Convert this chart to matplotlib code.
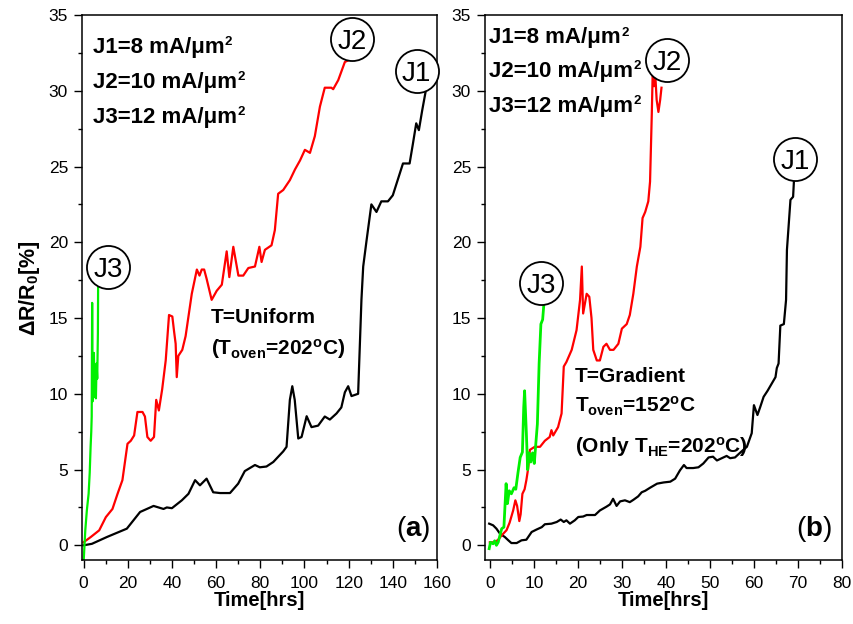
import matplotlib
matplotlib.use("Agg")
import matplotlib.pyplot as plt
from matplotlib.ticker import MultipleLocator

plt.rcParams['font.family'] = ['Liberation Sans', 'DejaVu Sans']
plt.rcParams['mathtext.fontset'] = 'custom'
plt.rcParams['mathtext.rm'] = 'Liberation Sans:bold'
plt.rcParams['mathtext.bf'] = 'Liberation Sans:bold'
plt.rcParams['mathtext.it'] = 'Liberation Sans:bold'
plt.rcParams['mathtext.default'] = 'rm'

# ---- (a) uniform oven temperature ----
a_j1_t = [0, 3.8, 10.6, 19.6, 22.6, 25.6, 30.2, 31.7, 36.2, 37.7, 40, 44.5, 47.5, 50.5,
          52.7, 55.7, 58.7, 61.8, 66.3, 70, 73, 77.6, 79.8, 82.8, 85.9, 90.4, 91.9, 93.4,
          94.5, 95.6, 97.2, 98.7, 101, 103.2, 106.2, 109.2, 111.5, 114.5, 116.7, 118.3,
          119.8, 121.3, 124.3, 125.8, 126.6, 128.1, 130.3, 132.6, 134.8, 137.8, 140,
          144.6, 147.6, 149.1, 150.6, 151.8, 153.3, 154.8]
a_j1_r = [0, 0.1, 0.55, 1.1, 1.65, 2.2, 2.5, 2.6, 2.4, 2.5, 2.45, 2.97, 3.4, 4.3,
          3.96, 4.4, 3.5, 3.45, 3.45, 4.07, 4.9, 5.3, 5.15, 5.2, 5.5, 6.2, 6.5, 9.6,
          10.5, 9.6, 7.05, 7.15, 8.52, 7.8, 7.9, 8.5, 8.3, 8.7, 9.1, 10.1,
          10.5, 9.85, 10.0, 16.2, 18.4, 20.1, 22.5, 22.0, 22.7, 22.7, 23.1,
          25.2, 25.2, 26.5, 27.85, 27.4, 28.7, 29.9]

a_j2_t = [0, 3.3, 7.1, 10.1, 13.1, 15.4, 17.6, 19.9, 21.4, 22.9, 24.4, 26.7, 27.8, 28.9,
          30.4, 31.9, 32.9, 34.1, 35.6, 37.2, 38.7, 40.2, 41.0, 41.7, 42.2, 42.9, 44.7,
          46.2, 47.7, 49.0, 51.3, 52.5, 53.5, 54.6, 55.7, 58.0, 60.3, 62.6, 64.8, 66.0,
          67.8, 70.1, 72.3, 74.6, 77.6, 79.6, 80.6, 82.1, 85.1, 86.6, 88.1, 90.4, 93.4,
          95.7, 98.0, 100.2, 102.5, 104.7, 107.0, 109.2, 112.2, 113.0, 115.3, 116.8,
          118.3, 119.8]
a_j2_r = [0.2, 0.55, 0.99, 1.86, 2.4, 3.4, 4.3, 6.7, 6.9, 7.25, 8.8, 8.8, 8.5, 7.15,
          6.9, 7.15, 9.6, 8.9, 10.3, 12.2, 15.2, 15.1, 14.1, 13.3, 11.1, 12.5, 12.9,
          13.8, 15.3, 16.6, 18.2, 17.8, 18.2, 18.2, 17.6, 16.2, 16.8, 17.2, 19.4, 17.7,
          19.7, 17.8, 17.8, 18.3, 18.4, 19.7, 18.7, 19.5, 19.8, 20.8, 23.2, 23.45, 24.1,
          24.8, 25.4, 26.1, 25.9, 27.0, 28.95, 30.2, 30.2, 30.1, 30.7, 31.3,
          31.9, 32.0]

a_j3_t = [0, 0.8, 1.5, 2.3, 2.8, 3.2, 3.5, 3.7, 3.9, 4.1, 4.4, 4.7, 5.0, 5.3, 5.6,
          5.9, 6.2, 6.5, 6.6]
a_j3_r = [-1.2, 1.0, 2.3, 3.4, 4.8, 6.5, 7.5, 8.5, 16.0, 9.5, 10.5, 12.7, 9.8, 11.5,
          9.7, 12.0, 11.0, 14.0, 17.0]

# ---- (b) temperature gradient ----
b_j1_t = [-0.15, 0.75, 1.5, 2.3, 3.4, 4.2, 4.9, 6.1, 7.2, 8.3, 9.5, 10.6, 11.8, 12.5,
          14.0, 15.2, 16.1, 16.8, 17.4, 18.2, 19.3, 20.1, 21.2, 22.0, 23.9, 25.0, 26.5,
          27.3, 28.0, 28.8, 29.6, 30.7, 31.8, 32.6, 33.7, 34.5, 35.3, 36.4, 38.0, 39.5,
          41.0, 42.1, 43.2, 44.1, 44.7, 46.2, 47.4, 48.5, 49.7, 50.7, 51.6, 52.7, 53.8,
          54.6, 55.7, 57.2, 58.4, 59.5, 60.0, 60.8, 61.4, 62.2, 63.1, 64.1, 64.9, 65.2,
          65.6, 66.0, 66.8, 67.3, 67.5, 68.3, 68.9, 69.1]
b_j1_r = [1.43, 1.32, 1.1, 0.77, 0.55, 0.33, 0.15, 0.15, 0.33, 0.37, 0.88, 1.04, 1.2, 1.39,
          1.43, 1.54, 1.7, 1.54, 1.65, 1.43, 1.65, 1.87, 1.9, 2.0, 2.0, 2.3, 2.55,
          2.7, 3.07, 2.6, 2.9, 2.97, 2.85, 3.0, 3.23, 3.5, 3.6, 3.8, 4.07, 4.15,
          4.2, 4.4, 4.95, 5.3, 5.1, 5.1, 5.15, 5.4, 5.8, 5.85, 5.6, 5.75, 5.9,
          5.75, 5.8, 6.2, 6.5, 7.4, 9.25, 8.6, 9.1, 9.8, 10.2, 10.7, 11.1, 11.7,
          12.0, 14.5, 14.6, 16.2, 19.5, 22.8, 23.0, 24.1]

b_j2_t = [0, 1.1, 1.9, 2.7, 3.8, 4.5, 5.3, 5.8, 6.2, 6.7, 7.0, 7.4, 7.9, 8.3, 8.7, 9.1,
          10.2, 11.4, 12.5, 13.6, 14.0, 14.4, 15.5, 16.3, 16.8, 17.4, 18.6, 19.7, 20.5,
          20.9, 21.2, 22.0, 22.6, 23.1, 23.5, 24.3, 25.0, 25.8, 26.5, 27.3, 28.1, 29.2,
          30.0, 31.1, 31.8, 32.6, 33.4, 34.2, 34.7, 35.3, 36.0, 36.4, 36.8, 37.0, 37.3,
          37.6, 37.9, 38.3, 38.7, 39.0]
b_j2_r = [0.2, 0.2, 0.37, 0.66, 1.0, 1.5, 2.3, 2.97, 2.6, 1.6, 2.05, 3.4, 3.7, 4.3, 5.06, 6.3,
          6.5, 6.5, 6.9, 7.15, 7.6, 7.25, 7.8, 8.7, 11.8, 12.1, 12.9, 14.2, 16.2,
          18.4, 15.3, 16.6, 16.4, 15.0, 12.9, 12.2, 12.2, 13.1, 13.3, 12.9, 12.9, 13.3,
          14.3, 14.6, 15.2, 16.6, 18.4, 19.7, 21.6, 22.0, 22.7, 24.0, 28.5, 31.2, 30.3,
          31.0, 29.4, 28.6, 29.4, 30.2]

b_j3_t = [-0.15, 0.15, 0.75, 1.1, 1.5, 1.9, 2.3, 2.7, 3.2, 3.7, 4.0, 4.4, 4.9, 5.5, 5.9,
          6.4, 6.9, 7.4, 7.7, 7.9, 8.3, 8.6, 8.9, 9.3, 9.7, 10.1, 10.5, 10.8, 11.2, 11.6,
          12.0, 12.3]
b_j3_r = [-0.22, 0.2, 0.1, 0.3, 0.0, 0.2, 0.66, 1.1, 1.2, 4.07, 2.75, 3.6, 3.4, 3.8, 3.7,
          4.8, 5.8, 6.15, 9.1, 10.2, 7.4, 4.99, 6.1, 5.5, 6.1, 5.4, 6.9, 8.0, 12.0, 14.6,
          14.9, 16.0]

# circled curve tags: (name, x, y) in data units
a_tags = [("J1", 150.8, 31.3), ("J2", 121.6, 33.4), ("J3", 11.3, 18.4)]
b_tags = [("J1", 69.3, 25.5), ("J2", 40.3, 32.0), ("J3", 11.7, 17.3)]

legend_lines = ["J1=8 mA/μm", "J2=10 mA/μm", "J3=12 mA/μm"]
legend_power = "2"

RED = "#ff0000"
GREEN = "#00f000"
BLACK = "#000000"

fig = plt.figure(figsize=(8.54, 6.24), dpi=100)
ax_a = fig.add_axes([0.0960, 0.1018, 0.4157, 0.8742])
ax_b = fig.add_axes([0.5679, 0.1018, 0.4180, 0.8742])


def style_axes(ax, xmin, xmax, xmajor, xminor):
    ax.set_xlim(xmin, xmax)
    ax.set_ylim(-1, 35)
    ax.xaxis.set_major_locator(MultipleLocator(xmajor))
    ax.xaxis.set_minor_locator(MultipleLocator(xminor))
    ax.yaxis.set_major_locator(MultipleLocator(5))
    ax.yaxis.set_minor_locator(MultipleLocator(2.5))
    ax.tick_params(which='both', direction='out', top=False, right=False,
                   width=1.0, labelsize=12.5)
    ax.tick_params(which='major', length=6)
    ax.tick_params(which='minor', length=3)
    ax.tick_params(axis='y', pad=4)
    ax.tick_params(axis='x', pad=5)
    for s in ax.spines.values():
        s.set_linewidth(1.1)
    ax.set_xlabel("Time[hrs]", fontsize=14.5, fontweight='bold', labelpad=0)


def draw_tags(ax, tags):
    for name, x, y in tags:
        ax.plot([x], [y], marker='o', ms=31, mfc='white', mec='black', mew=1.3,
                zorder=5, clip_on=False)
        ax.text(x, y, name, fontsize=20, ha='center', va='center_baseline', zorder=6)


def draw_legend_text(ax, x, ys):
    for line, y in zip(legend_lines, ys):
        t = ax.text(x, y, line, transform=ax.transAxes, fontsize=16, fontweight='bold',
                    va='baseline', ha='left')
        ax.annotate(legend_power, xy=(1, 1), xycoords=t, xytext=(0.5, 0.5),
                    textcoords='offset points', fontsize=9.5, fontweight='bold',
                    va='top', ha='left')


# panel (a)
style_axes(ax_a, -0.7, 160, 20, 10)
ax_a.plot(a_j1_t, a_j1_r, color=BLACK, lw=1.6)
ax_a.plot(a_j2_t, a_j2_r, color=RED, lw=1.6)
ax_a.plot(a_j3_t, a_j3_r, color=GREEN, lw=1.6)
draw_tags(ax_a, a_tags)
draw_legend_text(ax_a, 0.03, [0.930, 0.866, 0.802])
ax_a.text(0.363, 0.436, "T=Uniform", transform=ax_a.transAxes, fontsize=15,
          fontweight='bold', va='baseline')
ax_a.text(0.363, 0.377, r"(T$_{\mathrm{oven}}$=202$^{\mathrm{o}}$C)", transform=ax_a.transAxes,
          fontsize=15, fontweight='bold', va='baseline')
ax_a.text(0.98, 0.03, r"($\mathbf{a}$)", transform=ax_a.transAxes, fontsize=20,
          ha='right', va='bottom')
ax_a.set_ylabel(r"ΔR/R$_{0}$[%]", fontsize=15.5, fontweight='bold', labelpad=5)

# panel (b)
style_axes(ax_b, -1.1, 80, 10, 5)
ax_b.plot(b_j1_t, b_j1_r, color=BLACK, lw=1.6)
ax_b.plot(b_j2_t, b_j2_r, color=RED, lw=1.6)
ax_b.plot(b_j3_t, b_j3_r, color=GREEN, lw=2.0)
draw_tags(ax_b, b_tags)
draw_legend_text(ax_b, 0.012, [0.948, 0.886, 0.823])
ax_b.text(0.252, 0.328, "T=Gradient", transform=ax_b.transAxes, fontsize=15,
          fontweight='bold', va='baseline')
ax_b.text(0.252, 0.271, r"T$_{\mathrm{oven}}$=152$^{\mathrm{o}}$C", transform=ax_b.transAxes,
          fontsize=15, fontweight='bold', va='baseline')
ax_b.text(0.252, 0.197, r"(Only T$_{\mathrm{HE}}$=202$^{\mathrm{o}}$C)", transform=ax_b.transAxes,
          fontsize=15, fontweight='bold', va='baseline')
ax_b.text(0.972, 0.03, r"($\mathbf{b}$)", transform=ax_b.transAxes, fontsize=20,
          ha='right', va='bottom')

fig.savefig("out.png", dpi=100)
